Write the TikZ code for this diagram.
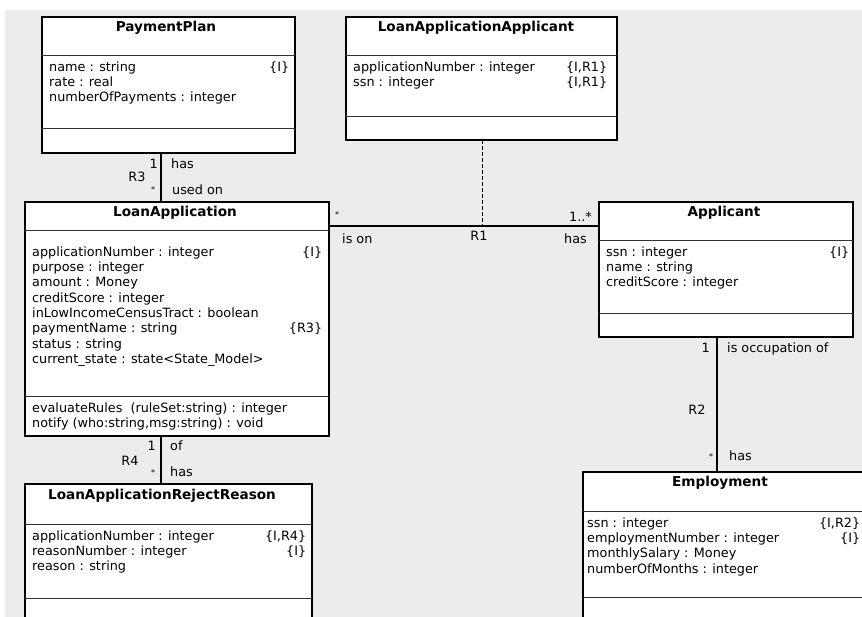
\documentclass[tikz,border=0pt]{standalone}
\usepackage{fontspec}
\setmainfont{DejaVu Sans}
\usetikzlibrary{calc}

% text sizes used in the class diagram
\newcommand\umlattr{\fontsize{12.8}{15.3}\selectfont}
\newcommand\umltitle{\fontsize{13.6}{16}\selectfont\bfseries}
\newcommand\umlmult{\fontsize{8}{8}\selectfont}
% attribute compartment: names on the left, tags flush right
\newcommand\attrrows[2]{\begin{tabular*}{#1}{@{}l@{\extracolsep{\fill}}r@{}}#2\end{tabular*}}

\definecolor{canvas}{RGB}{236,236,236}

\begin{document}
\begin{tikzpicture}[x=1pt,y=-1pt,
  classbox/.style={draw=black, line width=1.1pt, fill=white, inner sep=0pt, outer sep=0pt, anchor=north west},
  sepline/.style={draw=black!80, line width=1pt},
  classtitle/.style={font=\umltitle, inner sep=0pt, text height=10pt, text depth=3pt},
  attrlist/.style={font=\umlattr, inner sep=0pt, anchor=north west},
  assoc/.style={draw=black, line width=1.1pt},
  lbl/.style={font=\umlattr, inner sep=0pt, text height=9pt, text depth=2.5pt},
  many/.style={font=\umlmult, inner sep=0pt},
]
\clip (0,0) rectangle (862,617);
\fill[white] (0,0) rectangle (862,617);
\fill[canvas] (5,10) rectangle (862,617);

% ---------- PaymentPlan ----------
\node[classbox, minimum width=253pt, minimum height=136pt] (pp) at (42,17) {};
\draw[sepline] ([yshift=-39pt]pp.north west) -- ([yshift=-39pt]pp.north east);
\draw[sepline] ([yshift=-112pt]pp.north west) -- ([yshift=-112pt]pp.north east);
\node[classtitle] (pp-t) at (166,28) {PaymentPlan};
\node[attrlist] (pp-a) at (49,60.3) {\attrrows{240pt}{%
  name : string & \{I\}\\
  rate : real & \\
  numberOfPayments : integer & }};

% ---------- LoanApplicationApplicant ----------
\node[classbox, minimum width=271pt, minimum height=123pt] (laa) at (346,17) {};
\draw[sepline] ([yshift=-39pt]laa.north west) -- ([yshift=-39pt]laa.north east);
\draw[sepline] ([yshift=-100pt]laa.north west) -- ([yshift=-100pt]laa.north east);
\node[classtitle] (laa-t) at (476,28) {LoanApplicationApplicant};
\node[attrlist] (laa-a) at (353,60.3) {\attrrows{254pt}{%
  applicationNumber : integer & \{I,R1\}\\
  ssn : integer & \{I,R1\}}};

% ---------- LoanApplication ----------
\node[classbox, minimum width=304pt, minimum height=234pt] (la) at (25,202) {};
\draw[sepline] ([yshift=-29pt]la.north west) -- ([yshift=-29pt]la.north east);
\draw[sepline] ([yshift=-195pt]la.north west) -- ([yshift=-195pt]la.north east);
\node[classtitle] (la-t) at (175,213) {LoanApplication};
\node[attrlist] (la-a) at (32,245.3) {\attrrows{290pt}{%
  applicationNumber : integer & \{I\}\\
  purpose : integer & \\
  amount : Money & \\
  creditScore : integer & \\
  inLowIncomeCensusTract : boolean & \\
  paymentName : string & \{R3\}\\
  status : string & \\
  current\_state : state<State\_Model> & }};
\node[attrlist] (la-m) at (32,401.3) {\attrrows{290pt}{%
  evaluateRules\ \ (ruleSet:string) : integer & \\
  notify (who:string,msg:string) : void & }};

% ---------- Applicant ----------
\node[classbox, minimum width=254pt, minimum height=135pt] (app) at (599,202) {};
\draw[sepline] ([yshift=-39pt]app.north west) -- ([yshift=-39pt]app.north east);
\draw[sepline] ([yshift=-112pt]app.north west) -- ([yshift=-112pt]app.north east);
\node[classtitle] (app-t) at (724,213) {Applicant};
\node[attrlist] (app-a) at (606,245.3) {\attrrows{243pt}{%
  ssn : integer & \{I\}\\
  name : string & \\
  creditScore : integer & }};

% ---------- Employment ----------
\node[classbox, minimum width=287pt, minimum height=170pt] (emp) at (583,472) {};
\draw[sepline] ([yshift=-39pt]emp.north west) -- ([yshift=-39pt]emp.north east);
\draw[sepline] ([yshift=-125pt]emp.north west) -- ([yshift=-125pt]emp.north east);
\node[classtitle] (emp-t) at (720,483) {Employment};
\node[attrlist] (emp-a) at (587,516.3) {\attrrows{273pt}{%
  ssn : integer & \{I,R2\}\\
  employmentNumber : integer & \{I\}\\
  monthlySalary : Money & \\
  numberOfMonths : integer & }};

% ---------- LoanApplicationRejectReason ----------
\node[classbox, minimum width=287pt, minimum height=160pt] (lar) at (25,484) {};
\draw[sepline] ([yshift=-40pt]lar.north west) -- ([yshift=-40pt]lar.north east);
\draw[sepline] ([yshift=-114pt]lar.north west) -- ([yshift=-114pt]lar.north east);
\node[classtitle] (lar-t) at (162,496) {LoanApplicationRejectReason};
\node[attrlist] (lar-a) at (32,529.3) {\attrrows{274pt}{%
  applicationNumber : integer & \{I,R4\}\\
  reasonNumber : integer & \{I\}\\
  reason : string & }};

% ---------- associations ----------
\coordinate (r3x) at (161,0);
\coordinate (r2x) at (717,0);
\coordinate (r1y) at (0,226);
\coordinate (r1mid) at (482,226);

% R3: PaymentPlan -- LoanApplication
\draw[assoc] (pp.south -| r3x) -- (la.north -| r3x);
\node[lbl, anchor=east] (r3-one) at (158,165) {1};
\node[lbl] (r3-name) at (137,178) {R3};
\node[many] (r3-many) at (153,190) {*};
\node[lbl, anchor=west] (r3-has) at (171,165) {has};
\node[lbl, anchor=west] (r3-used) at (172,191) {used on};

% R1: LoanApplication -- Applicant, with associative class
\draw[assoc] (la.east |- r1y) -- (app.west |- r1y);
\draw[line width=1pt, dash pattern=on 4pt off 2pt] (laa.south -| r1mid) -- (r1mid);
\node[many] (r1-many) at (337,215) {*};
\node[lbl, anchor=west] (r1-ison) at (342,240) {is on};
\node[lbl] (r1-name) at (479,237) {R1};
\node[lbl, anchor=east] (r1-mult) at (592,218) {1..*};
\node[lbl, anchor=east] (r1-has) at (587,240) {has};

% R2: Applicant -- Employment
\draw[assoc] (app.south -| r2x) -- (emp.north -| r2x);
\node[lbl, anchor=east] (r2-one) at (710,349) {1};
\node[lbl, anchor=west] (r2-occ) at (727,349) {is occupation of};
\node[lbl] (r2-name) at (697,411) {R2};
\node[many] (r2-many) at (711,457) {*};
\node[lbl, anchor=west] (r2-has) at (729,457) {has};

% R4: LoanApplication -- LoanApplicationRejectReason
\draw[assoc] (la.south -| r3x) -- (lar.north -| r3x);
\node[lbl, anchor=east] (r4-one) at (156,447) {1};
\node[lbl] (r4-name) at (130,462) {R4};
\node[many] (r4-many) at (153,473) {*};
\node[lbl, anchor=west] (r4-of) at (170,447) {of};
\node[lbl, anchor=west] (r4-has) at (170,473) {has};
\end{tikzpicture}
\end{document}
